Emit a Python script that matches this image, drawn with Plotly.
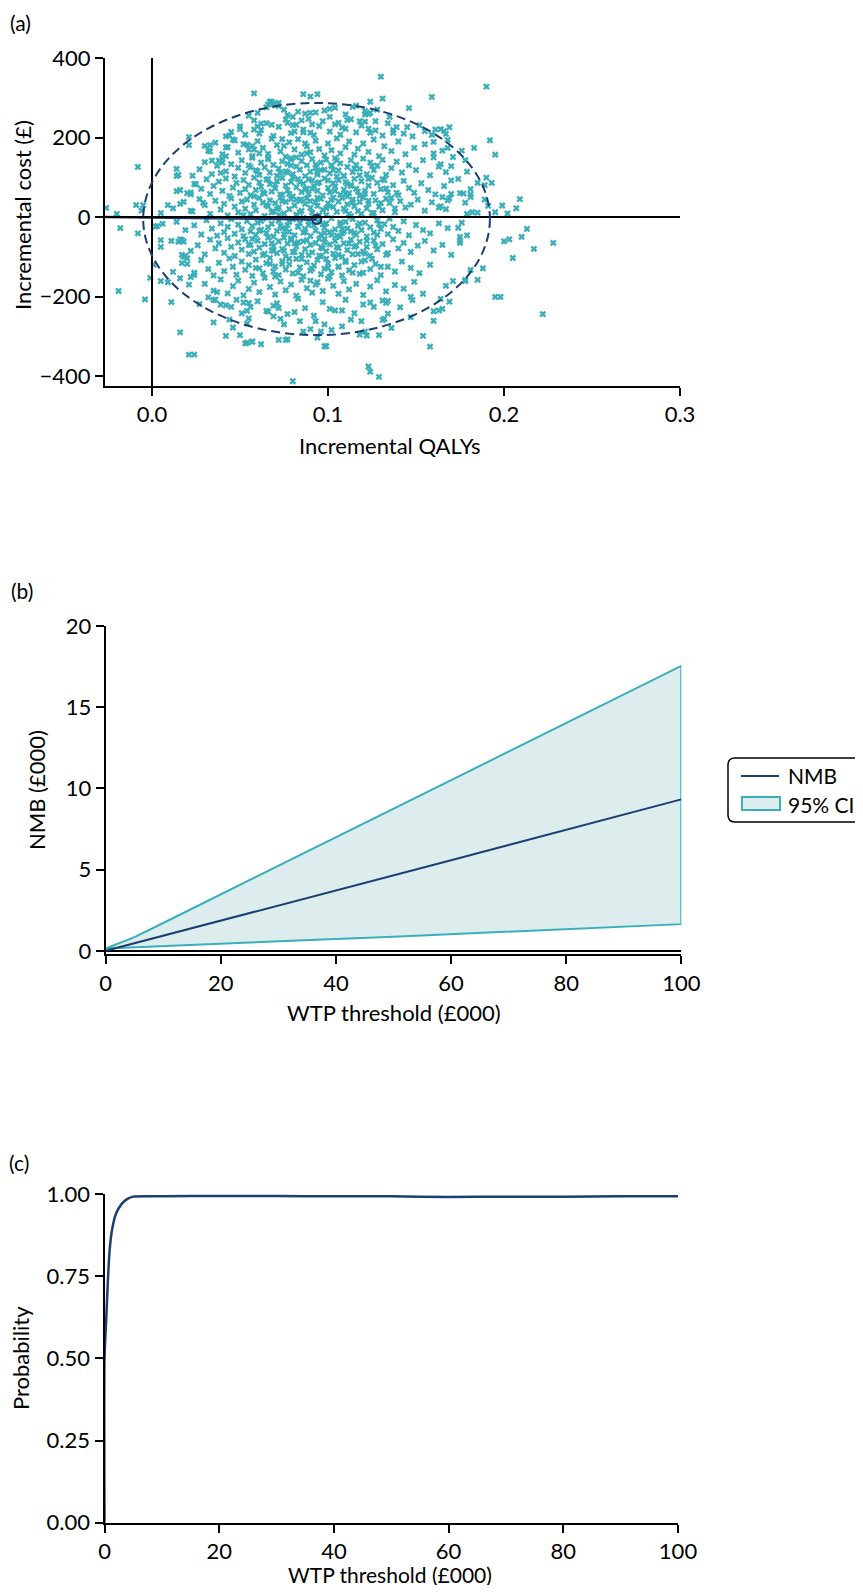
import plotly.graph_objects as go

# page body keeps the browser's default 8px margin, so the figure is 16px smaller than the window
OFF = 8
W, H = 863 - 2 * OFF, 1593 - 2 * OFF
NAVY = "#1c3f72"
TEAL = "#3aafb9"
FILL = "#ddedee"
FONT = "Lato"

# ---------------- Panel (a): cost-effectiveness plane ----------------
# points as (incremental QALYs x 1000, incremental cost in GBP)
pts_outer = [
    (58,311),(86,309),(90,303),(94,309),(67,290),(69,285),(70,281),(72,287),(65,276),(-8,126),(-26,23),(-9,30),
    (-5,30),(-6,16),(-20,8),(21,201),(21,181),(9,30),(5,10),(14,121),(15,106),(14,103),(16,33),(14,65),(16,68),
    (20,60),(22,57),(22,16),(23,104),(24,83),(30,179),(33,181),(32,167),(29,36),(34,142),(39,111),(38,142),(40,137),
    (42,203),(44,205),(42,175),(47,193),(50,221),(42,153),(54,182),(57,179),(58,170),(58,220),(61,210),(62,235),
    (60,228),(68,232),(61,160),(74,196),(75,179),(77,257),(80,252),(77,237),(80,231),(81,215),(87,260),(93,263),
    (85,243),(91,233),(86,213),(90,212),(87,185),
    (130,353),(190,328),(159,302),(131,298),(124,290),(101,272),(101,252),(114,277),(121,267),(123,259),(121,258),
    (146,274),(111,244),(106,237),(108,225),(118,241),(121,240),(127,241),(135,252),(123,222),(124,212),(137,219),
    (137,212),(145,226),(155,216),(159,207),(161,220),(164,221),(166,216),(169,226),(167,209),(160,189),(168,194),
    (168,174),(165,167),(176,167),(183,174),(192,193),(195,157),(171,151),(178,143),(160,150),(170,128),(167,113),
    (164,133),(179,114),(174,96),(185,86),(190,99),(193,86),(189,80),(181,70),(181,57),(181,50),(175,60),(177,59),
    (178,36),(189,44),(191,28),(195,12),(199,29),(202,9),(207,22),(209,45),(179,8),(182,12),(185,11),(165,50),
    (168,42),(170,58),(163,24),(167,20),
    (213,-30),(210,-50),(200,-61),(203,-56),(228,-65),(217,-80),(205,-103),(188,-129),(185,-158),(195,-201),
    (198,-201),(222,-244),
    (179,-46),(175,-50),(175,-65),(175,-59),(174,-27),(176,-14),(181,-133),(178,-158),(178,-161),(171,-161),
    (169,-213),(167,-173),(164,-206),(165,-231),(163,-235),(160,-237),(160,-261),(154,-193),(154,-299),(158,-326),
    (147,-252),(141,-227),(136,-279),(134,-243),(129,-297),(123,-376),(124,-389),(129,-402),(119,-262),(118,-296),
    (121,-288),(122,-298),(131,-259),(132,-256),(98,-325),(102,-284),(98,-270),(147,-201),(148,-209),(133,-216),
    (134,-211),(124,-215),(120,-220),(108,-235),(101,-231),
    (-18,-28),(-8,-41),(-19,-186),(-4,-207),(-1,-153),(1,-120),(5,-58),(5,-75),(3,-23),(6,-17),(2,-24),(9,-164),
    (5,-161),(12,-138),(11,-214),(16,-154),(16,-290),(21,-346),(24,-346),(21,-170),(27,-219),(24,-146),(22,-151),
    (17,-116),(18,-100),(19,-98),(20,-104),(17,-95),(11,-60),(15,-62),(17,-58),(16,-56),(32,-202),(35,-209),
    (37,-189),(36,-208),(39,-220),(42,-222),(45,-226),(35,-265),(42,-299),(44,-258),(46,-278),(51,-242),(55,-255),
    (54,-268),(50,-297),(53,-318),(57,-313),(62,-320),(55,-216),(52,-215),(54,-236),(65,-236),(69,-250),(73,-256),
    (69,-223),(72,-229),(72,-309),(76,-309),(81,-239),(86,-288),(93,-262),(96,-288),(99,-325),(94,-303),(80,-413),
    (54,-316),(57,-314),(77,-308),
]
pts_core = [
    (66,283),(68,290),(70,286),(72,279),(75,270),(83,265),(90,262),(98,268),(104,275),(110,258),(116,280),(124,262),
    (128,270),(60,262),(55,255),
    (45,214),(50,228),(53,207),(58,243),(62,219),(65,236),(69,204),(72,227),(76,245),(79,211),(82,232),(86,220),
    (89,247),(92,206),(95,229),(97,241),(101,215),(104,233),(107,207),(110,222),(113,246),(116,213),(119,230),
    (127,218),(131,205),(134,236),(139,226),(143,210),(148,203),(152,231),
    (33,165),(36,187),(40,158),(43,176),(46,195),(49,162),(52,183),(55,170),(57,153),(60,191),(63,174),(66,159),
    (68,197),(71,181),(73,165),(76,152),(78,188),(81,170),(83,196),(85,157),(88,178),(90,163),(93,192),(95,171),
    (98,155),(100,185),(102,168),(105,198),(107,160),(110,176),(112,190),(115,157),(117,172),(120,185),(123,164),
    (126,195),(129,153),(132,178),(136,166),(140,190),(144,158),(149,174),(155,183),(160,160),
    (27,120),(30,138),(34,108),(37,129),(40,147),(42,115),(45,133),(47,102),(49,124),(51,143),(53,111),(55,130),
    (57,149),(59,118),(61,106),(62,137),(64,125),(66,145),(67,112),(69,131),(71,104),(72,122),(74,140),(76,115),
    (77,134),(79,148),(80,108),(82,127),(84,119),(85,141),(87,103),(88,130),(90,114),(91,146),(93,124),(94,107),
    (96,137),(98,119),(99,144),(101,110),(102,129),(104,148),(106,117),(107,135),(109,104),(111,126),(113,143),
    (114,113),(116,131),(118,121),(120,147),(122,108),(124,137),(126,118),(128,129),(131,144),(133,106),(136,123),
    (139,139),(142,112),(146,130),(150,118),(154,143),(158,105),(163,127),
    (22,62),(25,83),(28,71),(31,95),(33,58),(35,78),(38,89),(40,66),(42,97),(44,53),(46,74),(48,86),(50,61),(52,93),
    (53,70),(55,81),(56,55),(58,99),(59,68),(61,87),(62,76),(64,59),(65,94),(67,83),(68,64),(70,72),(71,90),(73,57),
    (74,98),(76,79),(77,67),(79,88),(80,52),(82,75),(83,95),(85,63),(86,84),(88,71),(89,58),(91,92),(92,78),(94,66),
    (95,87),(97,54),(98,97),(100,73),(101,62),(103,85),(104,77),(106,93),(107,56),(109,69),(110,88),(112,60),
    (113,81),(115,96),(116,71),(118,53),(119,90),(121,66),(123,79),(125,99),(126,58),(128,86),(130,70),(132,93),
    (134,62),(137,80),(140,55),(143,91),(146,73),(149,61),(153,85),(157,68),(161,57),(166,78),(170,92),
    (12,22),(18,38),(23,14),(27,45),(30,30),(33,8),(36,41),(39,19),(41,33),(43,4),(45,47),(47,26),(49,12),(51,39),
    (53,21),(54,44),(56,7),(58,31),(59,17),(61,48),(63,36),(64,3),(66,27),(67,42),(69,14),(70,35),(72,24),(73,49),
    (75,9),(76,38),(78,20),(79,45),(81,29),(82,6),(84,41),(85,16),(87,33),(88,47),(90,23),(91,11),(93,37),(94,28),
    (96,46),(97,18),(99,5),(100,34),(102,43),(103,25),(105,13),(106,39),(108,48),(109,21),(111,32),(112,8),(114,44),
    (115,27),(117,15),(118,38),(120,49),(122,22),(123,33),(125,10),(127,42),(129,26),(131,17),(133,46),(135,35),
    (138,12),(141,40),(144,24),(147,31),(151,44),(155,16),(159,37),(164,27),(169,47),
    (14,-12),(19,-33),(24,-21),(28,-44),(31,-8),(34,-29),(37,-47),(39,-16),(41,-38),(43,-25),(45,-5),(47,-42),
    (49,-19),(51,-31),(52,-48),(54,-10),(56,-36),(57,-23),(59,-45),(60,-14),(62,-32),(63,-4),(65,-40),(66,-26),
    (68,-17),(69,-49),(71,-35),(72,-9),(74,-28),(75,-43),(77,-20),(78,-37),(80,-6),(81,-46),(83,-24),(84,-15),
    (86,-39),(87,-30),(89,-11),(90,-48),(92,-21),(93,-34),(95,-7),(96,-44),(98,-27),(99,-16),(101,-38),(102,-3),
    (104,-31),(105,-47),(107,-19),(108,-41),(110,-12),(111,-29),(113,-36),(114,-5),(116,-45),(117,-22),(119,-33),
    (121,-14),(122,-49),(124,-26),(126,-39),(128,-8),(130,-30),(132,-18),(134,-43),(137,-25),(140,-35),(143,-11),
    (146,-46),(150,-20),(154,-33),(158,-41),(163,-16),(168,-28),
    (18,-62),(22,-85),(26,-71),(30,-94),(33,-57),(36,-79),(38,-66),(41,-90),(43,-53),(45,-75),(47,-98),(49,-64),
    (51,-82),(53,-56),(55,-93),(56,-70),(58,-87),(60,-59),(61,-77),(63,-96),(64,-68),(66,-52),(68,-84),(69,-73),
    (71,-91),(72,-61),(74,-80),(76,-99),(77,-67),(79,-54),(80,-88),(82,-74),(83,-63),(85,-95),(87,-81),(88,-58),
    (90,-70),(91,-89),(93,-65),(95,-97),(96,-76),(98,-55),(99,-86),(101,-69),(103,-92),(104,-60),(106,-78),
    (108,-100),(109,-66),(111,-83),(113,-57),(114,-94),(116,-72),(118,-62),(120,-87),(122,-75),(124,-97),(126,-59),
    (128,-81),(131,-68),(134,-91),(137,-56),(140,-79),(143,-65),(147,-88),(151,-72),(155,-60),(160,-84),(165,-70),
    (170,-95),
    (20,-118),(24,-140),(28,-108),(32,-131),(35,-147),(38,-115),(41,-136),(44,-104),(46,-125),(48,-145),(51,-112),
    (53,-133),(55,-121),(57,-148),(59,-107),(61,-129),(63,-141),(65,-116),(67,-103),(69,-137),(70,-124),(72,-146),
    (74,-111),(76,-132),(78,-119),(80,-142),(82,-105),(84,-127),(86,-149),(88,-114),(90,-135),(92,-122),(94,-108),
    (96,-144),(98,-130),(100,-117),(102,-139),(104,-103),(106,-126),(108,-147),(110,-113),(112,-134),(115,-121),
    (118,-143),(121,-109),(124,-131),(127,-118),(130,-146),(134,-125),(138,-137),(142,-112),(147,-128),(152,-141),
    (158,-120),
    (30,-168),(35,-185),(39,-157),(43,-192),(46,-174),(49,-160),(52,-197),(55,-181),(58,-165),(61,-189),(64,-153),
    (67,-176),(70,-195),(73,-162),(76,-184),(79,-170),(82,-198),(85,-158),(88,-179),(91,-190),(94,-164),(97,-186),
    (100,-155),(103,-173),(106,-193),(109,-161),(112,-182),(116,-168),(120,-196),(124,-175),(128,-159),(133,-187),
    (138,-171),(143,-180),(149,-163),
    (48,-208),(56,-226),(60,-212),(66,-238),(71,-217),(77,-244),(83,-205),(87,-229),(92,-248),(97,-214),(104,-235),
    (110,-208),(115,-242),(126,-226),(131,-210),
    (75,-270),(84,-262),(90,-282),(108,-275),(113,-258),
    (72,5),(75,-52),(78,58),(81,-88),(84,12),(86,-61),(89,95),(92,-2),(94,48),(97,-79),(99,22),(102,-45),(104,66),
    (107,-14),(109,103),(112,-67),(114,37),(117,-93),(119,8),(121,59),(74,-118),(79,130),(83,-140),(88,160),
    (93,-170),(96,118),(100,-128),(105,142),(110,-110),(115,122),(70,81),(76,-30),(80,100),(85,-105),(90,40),
    (95,-55),(100,92),(105,-75),(110,15),(115,-40),(68,-66),(73,111),(78,-12),(82,44),(87,-37),(91,71),(96,-99),
    (101,27),(106,-124),(111,83),(65,30),(69,-85),(74,55),(79,-58),(84,88),(89,-20),(94,112),(98,-64),(103,49),
    (108,-31),(113,78),(118,-16),(123,41),(127,-72),(131,95),(135,-4),(139,61),(62,-10),(58,52),(55,-70),
    (125,-105),(130,35),(120,-140),(60,115),(66,148),
    (52,5),(57,-55),(63,62),(67,-118),(71,20),(75,-85),(79,145),(83,-25),(87,70),(91,-130),(95,5),(99,-105),
    (103,118),(107,-50),(111,52),(115,-75),(119,-112),(123,96),(128,-45),(133,72),(56,125),(61,-35),(66,95),
    (70,-150),(74,40),(78,-105),(82,150),(86,-2),(90,-160),(94,85),(98,-40),(102,130),(106,-95),(110,60),
    (114,-140),(118,105),(122,-60),(126,10),(130,-125),(136,48),(59,-128),(64,-92),(68,12),(73,-22),(77,112),
    (81,-66),(85,44),(89,-96),(93,132),(97,-18),(101,-150),(105,102),(109,-36),(113,2),(117,64),(121,-92),
    (125,128),(129,-18),(133,-95),(138,22),
]
all_pts = pts_outer + pts_core
inc_qaly = [p[0] / 1000 for p in all_pts]
inc_cost = [p[1] for p in all_pts]

mean_qaly = [0.0936]
mean_cost = [-6]
ref_line_qaly = [-0.0267, 0.0936]
ref_line_cost = [0, -6]
ellipse_box = dict(x0=-0.005, x1=0.192, y0=-297, y1=287)

a_xrange = [-0.0267, 0.3]
a_yrange = [-425, 400]
a_xticks = [0.0, 0.1, 0.2, 0.3]
a_yticks = [-400, -200, 0, 200, 400]

# ---------------- Panel (b): net monetary benefit ----------------
wtp_b = [0, 5, 10, 20, 30, 40, 50, 60, 70, 80, 90, 100]
nmb = [0.01, 0.47, 0.94, 1.88, 2.81, 3.73, 4.66, 5.58, 6.52, 7.45, 8.39, 9.33]
nmb_upper = [0.15, 0.85, 1.72, 3.48, 5.23, 6.98, 8.73, 10.49, 12.25, 14.01, 15.77, 17.54]
nmb_lower = [0.15, 0.22, 0.30, 0.44, 0.59, 0.74, 0.88, 1.03, 1.18, 1.33, 1.49, 1.65]
b_xticks = [0, 20, 40, 60, 80, 100]
b_yticks = [0, 5, 10, 15, 20]
legend_labels = ["NMB", "95% CI"]

# ---------------- Panel (c): CEAC ----------------
wtp_c = [0, 0, 0.3, 0.6, 0.9, 1.3, 2, 3, 4, 5, 10, 20, 30, 40, 50, 60, 70, 80, 90, 100]
prob_ce = [0, 0.5, 0.62, 0.74, 0.83, 0.89, 0.94, 0.97, 0.985, 0.992, 0.993, 0.994, 0.994, 0.993, 0.993,
           0.991, 0.992, 0.992, 0.993, 0.993]
c_yticks = [0, 0.25, 0.5, 0.75, 1.0]


# page pixel -> paper fraction
def px(v):
    return (v - OFF) / W


def py(v):
    return 1 - (v - OFF) / H


fig = go.Figure()

# panel a
fig.add_trace(go.Scatter(x=inc_qaly, y=inc_cost, mode="markers", xaxis="x", yaxis="y", showlegend=False,
                         marker=dict(symbol="x", size=6, color=TEAL, line=dict(width=0)), hoverinfo="skip"))
fig.add_trace(go.Scatter(x=ref_line_qaly, y=ref_line_cost, mode="lines", xaxis="x", yaxis="y",
                         showlegend=False, line=dict(color=NAVY, width=2.5)))
fig.add_trace(go.Scatter(x=mean_qaly, y=mean_cost, mode="markers", xaxis="x", yaxis="y", showlegend=False,
                         marker=dict(symbol="circle-open", size=9, color=NAVY, line=dict(width=2.2))))

# panel b
fig.add_trace(go.Scatter(x=wtp_b + wtp_b[::-1], y=nmb_upper + nmb_lower[::-1], mode="lines", fill="toself",
                         fillcolor=FILL, line=dict(color=TEAL, width=2), name=legend_labels[1],
                         showlegend=False, xaxis="x2", yaxis="y2"))
fig.add_trace(go.Scatter(x=wtp_b, y=nmb, mode="lines", line=dict(color=NAVY, width=2), name=legend_labels[0],
                         showlegend=False, xaxis="x2", yaxis="y2"))

# panel c
fig.add_trace(go.Scatter(x=wtp_c, y=prob_ce, mode="lines", line=dict(color=NAVY, width=2.5, shape="spline",
                         smoothing=0.6), showlegend=False, xaxis="x3", yaxis="y3", cliponaxis=False))

ax_common = dict(showline=True, linecolor="black", linewidth=2, ticks="outside", ticklen=8, tickwidth=2,
                 tickcolor="black", showgrid=False, zeroline=False, automargin=False,
                 tickfont=dict(family=FONT, size=22, color="black"))

a_xdom = [px(105), px(680)]
a_ydom = [py(386), py(58)]
b_xdom = [px(105.7), px(681.3)]
b_ydom = [py(954.2), py(626)]
c_xdom = [px(104.5), px(678)]
c_ydom = [py(1522.7), py(1194)]

fig.update_layout(
    template="none",
    width=W, height=H, margin=dict(l=0, r=0, t=0, b=0, pad=0, autoexpand=False),
    paper_bgcolor="white", plot_bgcolor="white",
    font=dict(family=FONT, size=22, color="black"),
    xaxis=dict(domain=a_xdom, range=a_xrange, tickvals=a_xticks, tickformat=".1f", anchor="y", **ax_common),
    yaxis=dict(domain=a_ydom, range=a_yrange, tickvals=a_yticks, anchor="x", **ax_common),
    xaxis2=dict(domain=b_xdom, range=[0, 100], tickvals=b_xticks, anchor="y2", **ax_common),
    yaxis2=dict(domain=b_ydom, range=[-0.2, 20], tickvals=b_yticks, anchor="x2", **ax_common),
    xaxis3=dict(domain=c_xdom, range=[0, 100], tickvals=b_xticks, anchor="y3", **ax_common),
    yaxis3=dict(domain=c_ydom, range=[0, 1], tickvals=c_yticks, tickformat=".2f", anchor="x3", **ax_common),
    showlegend=False,
)

shapes = [
    # axes cross lines (panel a)
    dict(type="line", xref="x", yref="y", x0=0, x1=0, y0=a_yrange[0], y1=a_yrange[1],
         line=dict(color="black", width=2)),
    dict(type="line", xref="x", yref="y", x0=a_xrange[0], x1=a_xrange[1], y0=0, y1=0,
         line=dict(color="black", width=2)),
    dict(type="circle", xref="x", yref="y", **ellipse_box, line=dict(color=NAVY, width=2, dash="9px,5px")),
    # zero line panel b
    dict(type="line", xref="x2", yref="y2", x0=0, x1=100, y0=0, y1=0, line=dict(color="black", width=2),
         layer="below"),
    # legend keys
    dict(type="line", xref="paper", yref="paper", x0=px(741), x1=px(779), y0=py(776), y1=py(776),
         line=dict(color=NAVY, width=2)),
    dict(type="rect", xref="paper", yref="paper", x0=px(742), x1=px(780), y0=py(810), y1=py(797),
         fillcolor=FILL, line=dict(color=TEAL, width=2)),
]
# rounded legend frame, open on the right where the page edge cuts it
x0, x1 = px(728), 1.0
yt, yb = py(758), py(822)
rx, ry = 7 / W, 7 / H
path = (f"M {x1},{yt} L {x0+rx},{yt} Q {x0},{yt} {x0},{yt-ry} L {x0},{yb+ry} Q {x0},{yb} {x0+rx},{yb} "
        f"L {x1},{yb}")
shapes.append(dict(type="path", xref="paper", yref="paper", path=path, line=dict(color="black", width=1.5)))
fig.update_layout(shapes=shapes)

ann = [
    ("(a)", 20, 22, 0, 21, "center"), ("(b)", 22, 590, 0, 21, "center"), ("(c)", 19, 1162, 0, 21, "center"),
    ("Incremental QALYs", 390, 445, 0, 22, "center"), ("Incremental cost (£)", 22, 215, -90, 22, "center"),
    ("WTP threshold (£000)", 394, 1012, 0, 22, "center"), ("NMB (£000)", 37, 790, -90, 22, "center"),
    ("WTP threshold (£000)", 390, 1574, 0, 21, "center"), ("Probability", 20, 1358, -90, 22, "center"),
    (legend_labels[0], 786, 775, 0, 21, "left"), (legend_labels[1], 786, 804, 0, 21, "left"),
]
for text, ax_, ay_, rot, fs, xa in ann:
    fig.add_annotation(text=text, x=px(ax_), y=py(ay_), xref="paper", yref="paper", showarrow=False,
                       xanchor=xa, yanchor="middle", textangle=rot,
                       font=dict(family=FONT, size=fs, color="black"))

fig.write_html("out.html", config={"displayModeBar": False})
